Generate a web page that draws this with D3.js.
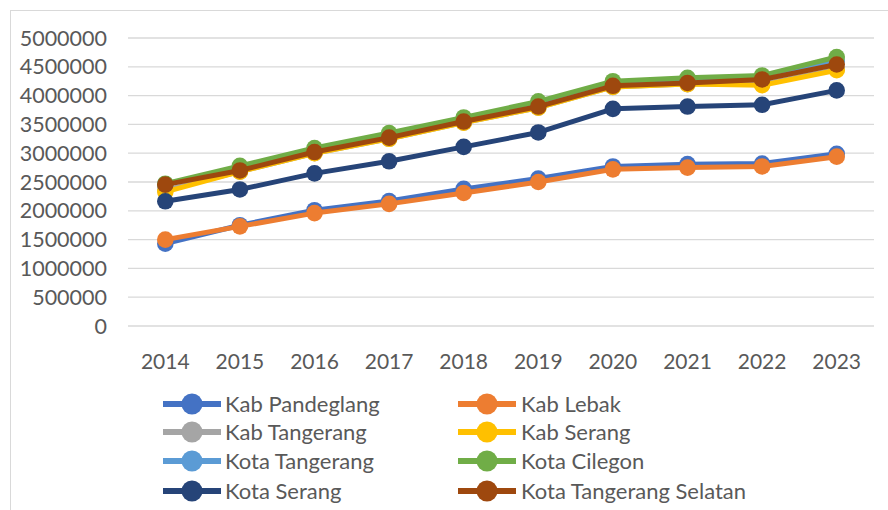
<!DOCTYPE html>
<html>
<head>
<meta charset="utf-8">
<script src="https://cdn.jsdelivr.net/npm/d3@7"></script>
<style>
  body { margin: 0; background: #fff; }
  svg text { font-family: Lato, "Open Sans", sans-serif; fill: #595959; }
</style>
</head>
<body>
<div id="chart"></div>
<script>
const years = ["2014", "2015", "2016", "2017", "2018", "2019", "2020", "2021", "2022", "2023"];
const yTicks = [0, 500000, 1000000, 1500000, 2000000, 2500000, 3000000, 3500000, 4000000, 4500000, 5000000];

const seriesNames = ["Kab Pandeglang", "Kab Lebak", "Kab Tangerang", "Kab Serang",
  "Kota Tangerang", "Kota Cilegon", "Kota Serang", "Kota Tangerang Selatan"];
const seriesColors = ["#4472C4", "#ED7D31", "#A5A5A5", "#FFC000",
  "#5B9BD5", "#70AD47", "#264478", "#9E480E"];

const kabPandeglang = [1430000, 1750000, 2010000, 2170000, 2380000, 2560000, 2770000, 2810000, 2820000, 2990000];
const kabLebak = [1500000, 1730000, 1960000, 2120000, 2310000, 2500000, 2720000, 2750000, 2770000, 2940000];
const kabTangerang = [2360000, 2680000, 3000000, 3250000, 3530000, 3790000, 4150000, 4200000, 4200000, 4460000];
const kabSerang = [2330000, 2680000, 3000000, 3250000, 3530000, 3790000, 4150000, 4200000, 4180000, 4440000];
const kotaTangerang = [2460000, 2740000, 3050000, 3310000, 3580000, 3850000, 4210000, 4260000, 4310000, 4600000];
const kotaCilegon = [2470000, 2780000, 3090000, 3350000, 3620000, 3900000, 4250000, 4310000, 4350000, 4670000];
const kotaSerang = [2165000, 2370000, 2650000, 2860000, 3110000, 3360000, 3770000, 3810000, 3840000, 4090000];
const kotaTangsel = [2455000, 2700000, 3020000, 3270000, 3550000, 3810000, 4170000, 4220000, 4280000, 4540000];

const seriesValues = [kabPandeglang, kabLebak, kabTangerang, kabSerang,
  kotaTangerang, kotaCilegon, kotaSerang, kotaTangsel];

const width = 888, height = 510;
const svg = d3.select("#chart").append("svg")
  .attr("width", width)
  .attr("height", height);

// chart frame
svg.append("rect")
  .attr("x", 10.5).attr("y", 10.5)
  .attr("width", 900).attr("height", 520)
  .attr("fill", "none")
  .attr("stroke", "#d9d9d9")
  .attr("stroke-width", 1);

const plot = { left: 128, right: 874, top: 38, bottom: 326 };

const x = d3.scalePoint()
  .domain(years)
  .range([plot.left, plot.right])
  .padding(0.5);

const y = d3.scaleLinear()
  .domain([0, 5000000])
  .range([plot.bottom, plot.top]);

// gridlines
svg.append("g")
  .selectAll("line")
  .data(yTicks)
  .enter().append("line")
  .attr("x1", plot.left).attr("x2", plot.right)
  .attr("y1", d => y(d)).attr("y2", d => y(d))
  .attr("stroke", "#d9d9d9")
  .attr("stroke-width", 1.3);

// y labels
svg.append("g")
  .selectAll("text")
  .data(yTicks)
  .enter().append("text")
  .attr("x", 107)
  .attr("y", d => y(d))
  .attr("dy", "0.35em")
  .attr("text-anchor", "end")
  .style("font-size", "21.5px")
  .text(d => d);

// x labels
svg.append("g")
  .selectAll("text")
  .data(years)
  .enter().append("text")
  .attr("x", d => x(d))
  .attr("y", 362)
  .attr("dy", "0.35em")
  .attr("text-anchor", "middle")
  .style("font-size", "21px")
  .text(d => d);

const line = d3.line()
  .x((d, i) => x(years[i]))
  .y(d => y(d));

const series = svg.append("g")
  .selectAll("g.series")
  .data(seriesValues)
  .enter().append("g")
  .attr("class", "series");

series.append("path")
  .attr("d", d => line(d))
  .attr("fill", "none")
  .attr("stroke", (d, i) => seriesColors[i])
  .attr("stroke-width", 5)
  .attr("stroke-linejoin", "round");

series.each(function (vals, i) {
  d3.select(this).selectAll("circle")
    .data(vals)
    .enter().append("circle")
    .attr("cx", (d, j) => x(years[j]))
    .attr("cy", d => y(d))
    .attr("r", 8.3)
    .attr("fill", seriesColors[i]);
});

// legend
const legendCols = [{ line: 163, text: 225 }, { line: 458, text: 521 }];
const legendRows = [404, 432, 461, 491];

const legend = svg.append("g")
  .selectAll("g.legend")
  .data(seriesNames)
  .enter().append("g")
  .attr("class", "legend")
  .attr("transform", (d, i) => `translate(${legendCols[i % 2].line},${legendRows[Math.floor(i / 2)]})`);

legend.append("line")
  .attr("x1", 0).attr("x2", 58)
  .attr("y1", 0).attr("y2", 0)
  .attr("stroke", (d, i) => seriesColors[i])
  .attr("stroke-width", 6);

legend.append("circle")
  .attr("cx", 29).attr("cy", 0)
  .attr("r", 10.5)
  .attr("fill", (d, i) => seriesColors[i]);

legend.append("text")
  .attr("x", (d, i) => legendCols[i % 2].text - legendCols[i % 2].line)
  .attr("y", 0)
  .attr("dy", "0.35em")
  .style("font-size", "22px")
  .text(d => d);
</script>
</body>
</html>
